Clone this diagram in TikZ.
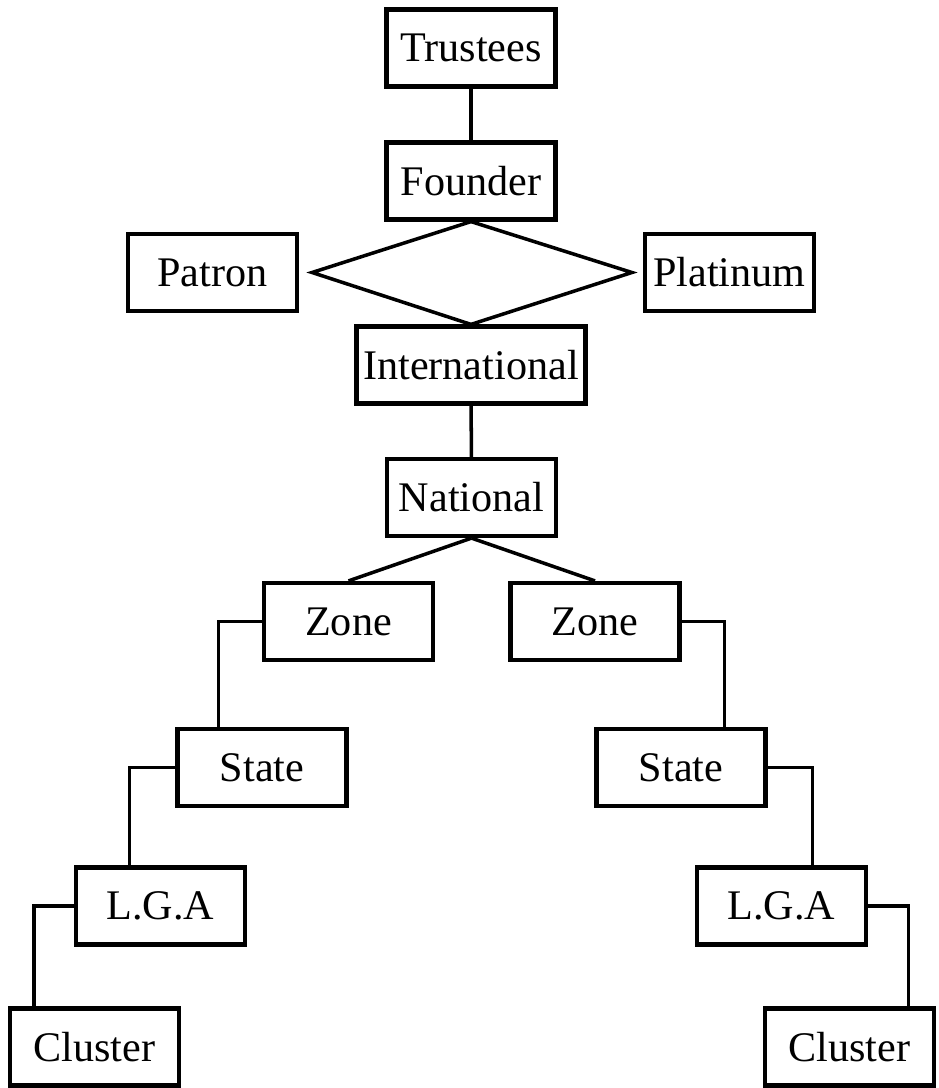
\documentclass[tikz,border=0pt]{standalone}
\usepackage{fontspec}
\setmainfont{Liberation Serif}
\usetikzlibrary{positioning,calc}
\tikzset{
  unit/.style={draw, line width=2.4pt, minimum width=3.38cm, minimum height=1.54cm,
               inner sep=0pt, font=\fontsize{24}{28}\selectfont},
  wideunit/.style={unit, minimum width=4.58cm},
  link/.style={line width=2pt},
  elbow/.style={link, line join=miter}
}
\begin{document}
\begin{tikzpicture}[x=0.02cm, y=-0.02cm]
\useasboundingbox (0,0) rectangle (939,1088);
% top of the chart
\node[unit] (trustees) at (471,48) {Trustees};
\node[unit] (founder) at (471,181) {Founder};
\node[unit] (patron) at (212.5,272.5) {Patron};
\node[unit] (platinum) at (729.5,272.5) {Platinum};
\node[wideunit] (intl) at (471,365) {International};
\node[unit] (national) at (471.5,497.5) {National};
% two branches
\node[unit] (zoneL) at (348.5,621.5) {Zone};
\node[unit] (zoneR) at (595,621.5) {Zone};
\node[unit] (stateL) at (262,767.5) {State};
\node[unit] (stateR) at (681,767.5) {State};
\node[unit] (lgaL) at (160.5,906) {L.G.A};
\node[unit] (lgaR) at (781.5,906) {L.G.A};
\node[unit] (clusterL) at (94.5,1047) {Cluster};
\node[unit] (clusterR) at (849.5,1047) {Cluster};
% links
\coordinate (dl) at ($(patron.east)+(13,0)$);
\coordinate (dr) at ($(platinum.west)+(-11,0)$);
\draw[link] (trustees) -- (founder);
\draw[elbow] (founder.south) -- (dl) -- (intl.north) -- (dr) -- cycle;
\draw[link] (intl) -- (national);
\draw[link] (national.south) -- (zoneL.north);
\draw[link] (national.south) -- (zoneR.north);
\draw[elbow] (zoneL.west) -| ($(stateL.north west)!0.25!(stateL.north east)$);
\draw[elbow] (stateL.west) -| ($(lgaL.north west)!0.32!(lgaL.north east)$);
\draw[elbow] (lgaL.west) -| ($(clusterL.north west)!0.15!(clusterL.north east)$);
\draw[elbow] (zoneR.east) -| ($(stateR.north west)!0.75!(stateR.north east)$);
\draw[elbow] (stateR.east) -| ($(lgaR.north west)!0.68!(lgaR.north east)$);
\draw[elbow] (lgaR.east) -| ($(clusterR.north west)!0.84!(clusterR.north east)$);
\end{tikzpicture}
\end{document}
